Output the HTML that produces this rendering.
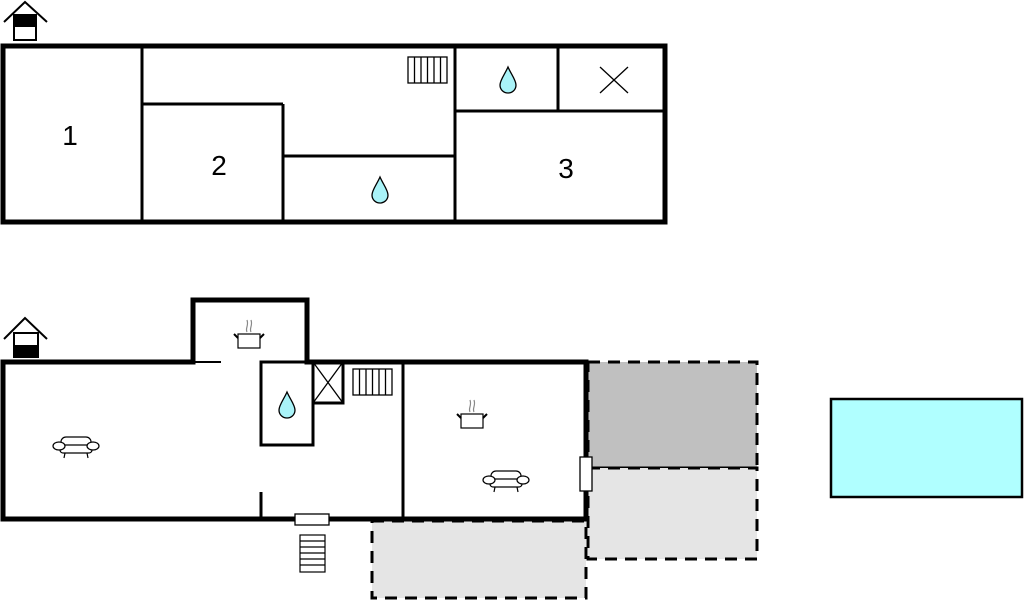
<!DOCTYPE html>
<html><head><meta charset="utf-8"><style>
html,body{margin:0;padding:0;background:#fff;width:1024px;height:601px;overflow:hidden}
svg{display:block}
text{font-family:"Liberation Sans",sans-serif;font-size:28px;fill:#000}
</style></head><body>
<svg width="1024" height="601" viewBox="0 0 1024 601" xmlns="http://www.w3.org/2000/svg">
<defs>
<g id="drop"><path d="M0,-13 C3,-6 8,0 8,5 C8,10 4,13 0,13 C-4,13 -8,10 -8,5 C-8,0 -3,-6 0,-13 Z" fill="#a9f3f8" stroke="#000" stroke-width="1.3"/></g>
<g id="rad"><rect x="0" y="0" width="39" height="26" fill="#fff" stroke="#000" stroke-width="1.3"/>
<path d="M6.5,0V26M13,0V26M19.5,0V26M26,0V26M32.5,0V26" stroke="#000" stroke-width="1.3"/></g>
<g id="pot" fill="none" stroke="#000" stroke-width="1.2">
<rect x="-11" y="-6" width="22" height="14" fill="#fff"/>
<path d="M-11,-2 L-15,-6 M11,-2 L15,-6" stroke-width="2"/>
<path d="M-2,-8 C-4,-12 0,-14 -2,-20 M2,-8 C0,-12 4,-14 2,-20" stroke="#888"/></g>
<g id="sofa" fill="#fff" stroke="#000" stroke-width="1.2">
<rect x="-15" y="-9" width="30" height="12" rx="5"/>
<rect x="-16" y="-1" width="32" height="8" rx="3"/>
<ellipse cx="-17" cy="0" rx="6" ry="4"/><ellipse cx="17" cy="0" rx="6" ry="4"/>
<path d="M-11,7 L-12,12 M11,7 L12,12" fill="none"/></g>
</defs>

<!-- top house icon -->
<path d="M4,22 L25,2 L47,22" fill="none" stroke="#000" stroke-width="2"/>
<rect x="14" y="15" width="22" height="25" fill="#fff" stroke="#000" stroke-width="2"/>
<rect x="14" y="15" width="22" height="12" fill="#000"/>

<!-- top plan -->
<g stroke="#000" fill="none">
<rect x="3" y="46" width="662" height="176" stroke-width="5" fill="#fff"/>
<path d="M142,46V222 M142,104H283 M283,104V222 M283,156H455 M455,46V222 M455,111H665 M558,46V111" stroke-width="3"/>
<path d="M600,67L628,93M628,67L600,93" stroke-width="1.3"/>
</g>
<use href="#rad" x="408" y="57"/>
<use href="#drop" x="508" y="80"/>
<use href="#drop" x="380" y="190"/>
<text x="70" y="145" text-anchor="middle">1</text>
<text x="219" y="175" text-anchor="middle">2</text>
<text x="566" y="178" text-anchor="middle">3</text>

<!-- dashed terraces -->
<rect x="588" y="362" width="169" height="106" fill="#c0c0c0" stroke="#000" stroke-width="3" stroke-dasharray="12,8"/>
<rect x="588" y="468" width="169" height="91" fill="#e5e5e5" stroke="#000" stroke-width="3" stroke-dasharray="12,8"/>
<rect x="372" y="521" width="214" height="77" fill="#e5e5e5" stroke="#000" stroke-width="3" stroke-dasharray="12,8"/>

<!-- bottom house icon -->
<path d="M4,339 L25,318 L47,339" fill="none" stroke="#000" stroke-width="2"/>
<rect x="14" y="333" width="24" height="24" fill="#fff" stroke="#000" stroke-width="2"/>
<rect x="14" y="345" width="24" height="12" fill="#000"/>

<!-- bottom plan -->
<g stroke="#000" fill="none">
<path d="M3,362 H193 V300 H307 V362 H586 V519 H3 Z" stroke-width="5" fill="#fff" stroke-linejoin="miter"/>
<path d="M193,362H221" stroke-width="2"/>
<rect x="261" y="362" width="52" height="83" stroke-width="3"/>
<rect x="313" y="362" width="30" height="41" stroke-width="3"/>
<path d="M313,362L343,403M343,362L313,403" stroke-width="1.3"/>
<path d="M403,362V519 M261,492V519" stroke-width="3"/>
</g>
<use href="#rad" x="353" y="369"/>
<use href="#drop" x="287" y="405"/>
<use href="#pot" x="249" y="340"/>
<use href="#pot" x="472" y="420"/>
<use href="#sofa" x="76" y="446"/>
<use href="#sofa" x="506" y="480"/>
<!-- door -->
<rect x="295" y="514" width="34" height="11" fill="#fff" stroke="#000" stroke-width="1.3"/>
<!-- stairs -->
<g fill="#fff" stroke="#000" stroke-width="1.2">
<rect x="300" y="535" width="25" height="37"/>
<path d="M300,541H325M300,547H325M300,553H325M300,559H325M300,565H325" fill="none"/>
</g>
<!-- window right -->
<rect x="580" y="457" width="12" height="34" fill="#fff" stroke="#000" stroke-width="1.3"/>

<!-- pool -->
<rect x="831" y="399" width="191" height="98" fill="#b0ffff" stroke="#000" stroke-width="2.5"/>
</svg>
</body></html>
